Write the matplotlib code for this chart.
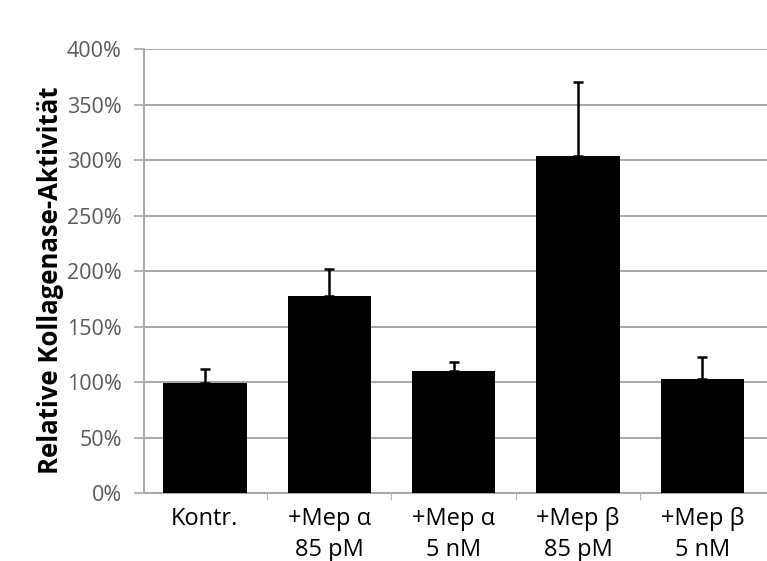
import numpy as np
import matplotlib.pyplot as plt
from matplotlib.ticker import FuncFormatter

categories = ["Kontr.", "+Mep \u03b1\n85 pM", "+Mep \u03b1\n5 nM", "+Mep \u03b2\n85 pM", "+Mep \u03b2\n5 nM"]
activity = [99, 178, 110, 304, 103]
err_up = [13, 24, 8, 67, 20]

plt.rcParams['font.family'] = ['Open Sans', 'DejaVu Sans']

fig = plt.figure(figsize=(7.67, 5.61), dpi=100)
ax = fig.add_axes([0.1877, 0.1212, 0.8123, 0.7906])

x = np.arange(len(categories))
ax.bar(x, activity, width=0.67, color="black", zorder=3)
ax.errorbar(x, activity, yerr=[np.zeros(len(err_up)), err_up], fmt="none",
            ecolor="black", elinewidth=1.8, capsize=3.5, capthick=1.8, zorder=4)

ax.set_ylim(0, 400)
ax.set_xlim(-0.49, 4.52)
ax.set_yticks(np.arange(0, 401, 50))
ax.yaxis.set_major_formatter(FuncFormatter(lambda v, p: f"{int(v)}%"))
ax.grid(axis="y", color="#a6a6a6", linewidth=1.4, zorder=0)

ax.set_xticks(x)
ax.set_xticklabels(categories, fontsize=17, linespacing=1.4, color="black")
ax.set_xticks(x[:-1] + 0.5, minor=True)
ax.tick_params(axis="x", which="major", length=0, pad=10)
ax.tick_params(axis="x", which="minor", length=5, color="#a6a6a6")
ax.tick_params(axis="y", length=7, color="#a6a6a6", width=1.2, pad=9,
               labelsize=15.5, labelcolor="#595959")

for s in ["top", "right"]:
    ax.spines[s].set_visible(False)
ax.spines["left"].set_color("#a6a6a6")
ax.spines["bottom"].set_color("#a6a6a6")
ax.spines["left"].set_linewidth(1.4)
ax.spines["bottom"].set_linewidth(1.4)

ax.set_ylabel("Relative Kollagenase-Aktivit\u00e4t", fontsize=18.5, fontweight="bold")
ax.yaxis.set_label_coords(-0.128, 0.48)

fig.savefig("out.png", dpi=100)
